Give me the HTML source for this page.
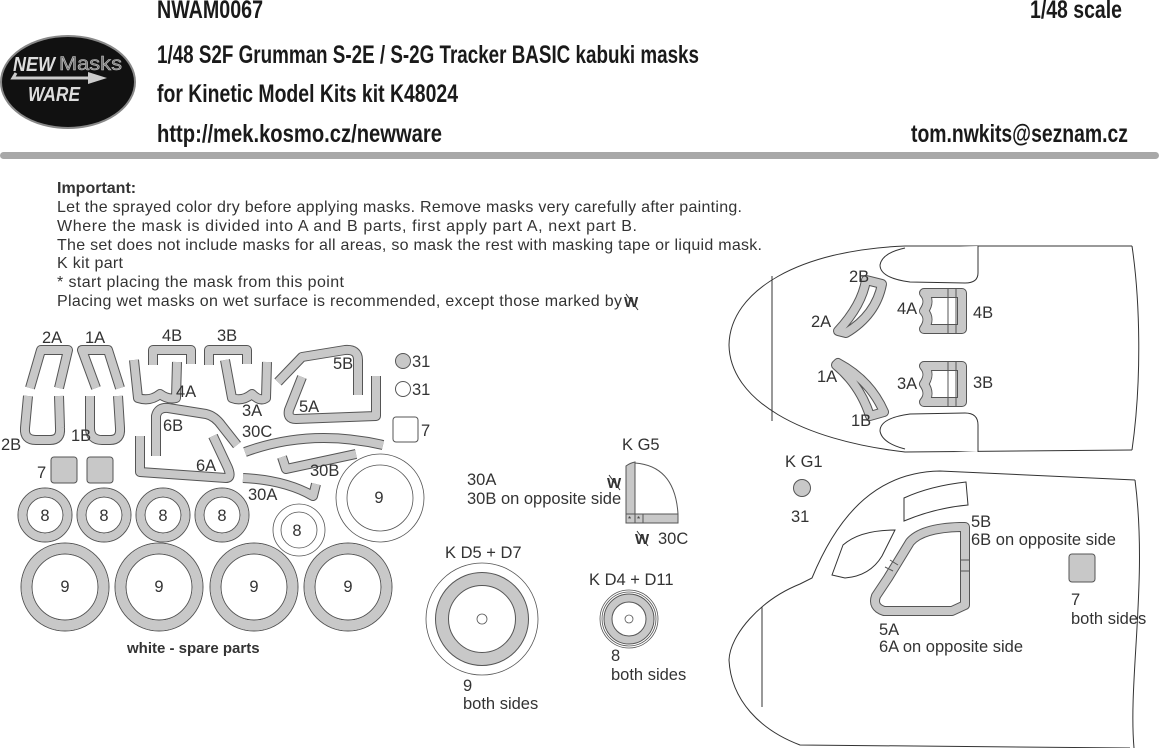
<!DOCTYPE html>
<html><head><meta charset="utf-8"><style>
html,body{margin:0;padding:0;background:#fff;}
svg{display:block}
.h{font-family:"Liberation Sans Narrow","Liberation Sans",sans-serif;font-weight:bold;fill:#1a1a1a}
.t{font-family:"Liberation Sans",sans-serif;font-size:16px;fill:#333}
.l{font-family:"Liberation Sans",sans-serif;font-size:16.5px;fill:#333}
.o{fill:none;stroke:#555;stroke-linejoin:round}
.g{fill:none;stroke:#c8c8c8;stroke-linejoin:round}
</style></head><body>
<svg width="1159" height="748" viewBox="0 0 1159 748" xmlns="http://www.w3.org/2000/svg">
<!-- header -->
<text class="h" x="157" y="18" font-size="25" textLength="106" lengthAdjust="spacingAndGlyphs">NWAM0067</text>
<text class="h" x="1030" y="18" font-size="25" textLength="92" lengthAdjust="spacingAndGlyphs">1/48 scale</text>
<text class="h" x="157" y="63" font-size="25" textLength="542" lengthAdjust="spacingAndGlyphs">1/48 S2F Grumman S-2E / S-2G Tracker BASIC kabuki masks</text>
<text class="h" x="157" y="102" font-size="25" textLength="301" lengthAdjust="spacingAndGlyphs">for Kinetic Model Kits kit K48024</text>
<text class="h" x="157" y="142" font-size="25" textLength="285" lengthAdjust="spacingAndGlyphs">http://mek.kosmo.cz/newware</text>
<text class="h" x="911" y="142" font-size="25" textLength="217" lengthAdjust="spacingAndGlyphs">tom.nwkits@seznam.cz</text>
<rect x="0" y="152" width="1159" height="7" rx="3.5" fill="#a8a8a8"/>
<!-- logo -->
<ellipse cx="68" cy="82" rx="67" ry="46" fill="#111" stroke="#888" stroke-width="2"/>
<text x="13" y="71" font-family="Liberation Sans,sans-serif" font-weight="bold" font-style="italic" font-size="20" fill="#ddd" textLength="42" lengthAdjust="spacingAndGlyphs">NEW</text>
<text x="59" y="70" font-family="Liberation Sans,sans-serif" font-size="19" fill="#777" stroke="#ccc" stroke-width="0.5" textLength="63" lengthAdjust="spacingAndGlyphs">Masks</text>
<path d="M16,73 L13,78 L90,78" stroke="#ccc" stroke-width="3" fill="none"/>
<path d="M88,72 L107,78 L88,84 Z" fill="#ccc"/>
<text x="28" y="101" font-family="Liberation Sans,sans-serif" font-weight="bold" font-style="italic" font-size="20" fill="#ddd" textLength="52" lengthAdjust="spacingAndGlyphs">WARE</text>
<!-- important -->
<text x="57" y="193" font-family="Liberation Sans,sans-serif" font-weight="bold" font-size="16" fill="#333">Important:</text>
<text class="t" x="57" y="212" textLength="685">Let the sprayed color dry before applying masks. Remove masks very carefully after painting.</text>
<text class="t" x="57" y="231" textLength="580">Where the mask is divided into A and B parts, first apply part A, next part B.</text>
<text class="t" x="57" y="250" textLength="705">The set does not include masks for all areas, so mask the rest with masking tape or liquid mask.</text>
<text class="t" x="57" y="268" textLength="66">K kit part</text>
<text class="t" x="57" y="287" textLength="287">*  start placing the mask from this point</text>
<text class="t" x="57" y="306" textLength="565">Placing wet masks on wet surface is recommended, except those marked by</text>
<text x="624" y="307" font-family="Liberation Sans,sans-serif" font-weight="bold" font-size="15" fill="#333">W</text>
<line x1="626" y1="294" x2="638" y2="310" stroke="#333"/>
<!-- left parts -->
<g>
<g class="o" stroke-width="10">
<path d="M30,388 L41,350 L68,350 L59,388"/>
<path d="M28,396 L25,428 Q24,440 36,440 L50,440 Q61,440 60,428 L59,396"/>
<path d="M96,388 L82,350 L108,350 L120,388"/>
<path d="M90,396 L90,428 Q90,440 102,440 L110,440 Q121,440 120,428 L118,396"/>
<path d="M153,365 L153,350 L191,350 L191,364"/>
<path d="M134,360 L138,398 Q150,402 160,394 Q168,400 176,398 L177,362"/>
<path d="M209,365 L209,350 L247,350 L247,364"/>
<path d="M225,360 L232,398 Q242,402 252,394 Q260,402 266,398 L267,362"/>
<path d="M278,382 L302,357 L345,350 Q358,349 358,360 L358,395"/>
<path d="M302,377 L289,410 Q287,419 296,419 L376,416 L376,376"/>
<path d="M156,456 L156,416 Q158,407 168,408 L206,414 Q215,416 222,426 L237,445"/>
<path d="M140,436 L140,472 L226,478 Q232,478 228,468 L213,436"/>
<path d="M245,452 Q310,428 383,445"/>
<path d="M282,457 L286,469 L356,454"/>
<path d="M243,478 Q285,480 313,496 L316,484"/>
</g>
<g class="g" stroke-width="8">
<path d="M30,388 L41,350 L68,350 L59,388"/>
<path d="M28,396 L25,428 Q24,440 36,440 L50,440 Q61,440 60,428 L59,396"/>
<path d="M96,388 L82,350 L108,350 L120,388"/>
<path d="M90,396 L90,428 Q90,440 102,440 L110,440 Q121,440 120,428 L118,396"/>
<path d="M153,365 L153,350 L191,350 L191,364"/>
<path d="M134,360 L138,398 Q150,402 160,394 Q168,400 176,398 L177,362"/>
<path d="M209,365 L209,350 L247,350 L247,364"/>
<path d="M225,360 L232,398 Q242,402 252,394 Q260,402 266,398 L267,362"/>
<path d="M278,382 L302,357 L345,350 Q358,349 358,360 L358,395"/>
<path d="M302,377 L289,410 Q287,419 296,419 L376,416 L376,376"/>
<path d="M156,456 L156,416 Q158,407 168,408 L206,414 Q215,416 222,426 L237,445"/>
<path d="M140,436 L140,472 L226,478 Q232,478 228,468 L213,436"/>
<path d="M245,452 Q310,428 383,445"/>
<path d="M282,457 L286,469 L356,454"/>
<path d="M243,478 Q285,480 313,496 L316,484"/>
</g>
<text class="l" x="42" y="343">2A</text><text class="l" x="85" y="343">1A</text>
<text class="l" x="162" y="341">4B</text><text class="l" x="217" y="341">3B</text>
<text class="l" x="176" y="397">4A</text><text class="l" x="242" y="416">3A</text>
<text class="l" x="333" y="369">5B</text><text class="l" x="299" y="412">5A</text>
<text class="l" x="163" y="431">6B</text><text class="l" x="196" y="471">6A</text>
<text class="l" x="242" y="437">30C</text><text class="l" x="310" y="476">30B</text>
<text class="l" x="248" y="500">30A</text>
<text class="l" x="1" y="450">2B</text><text class="l" x="71" y="441">1B</text>
<circle cx="403" cy="361" r="7.5" fill="#c8c8c8" stroke="#555"/>
<circle cx="403" cy="389" r="7.5" fill="#fff" stroke="#555"/>
<text class="l" x="412" y="367">31</text><text class="l" x="412" y="395">31</text>
<rect x="393" y="417" width="25" height="25" rx="3" fill="#fff" stroke="#555"/>
<text class="l" x="421" y="436">7</text>
<rect x="51" y="457" width="26" height="26" rx="3" fill="#c8c8c8" stroke="#555"/>
<rect x="87" y="457" width="26" height="26" rx="3" fill="#c8c8c8" stroke="#555"/>
<text class="l" x="37" y="478">7</text>
</g>
<!-- rings -->
<g>
<g fill="none" stroke="#555" stroke-width="1">
<circle cx="45" cy="515" r="27"/><circle cx="45" cy="515" r="18"/>
<circle cx="104" cy="515" r="27"/><circle cx="104" cy="515" r="18"/>
<circle cx="163" cy="515" r="27"/><circle cx="163" cy="515" r="18"/>
<circle cx="222" cy="515" r="27"/><circle cx="222" cy="515" r="18"/>
<circle cx="65" cy="587" r="44"/><circle cx="65" cy="587" r="33"/>
<circle cx="159" cy="587" r="44"/><circle cx="159" cy="587" r="33"/>
<circle cx="254" cy="587" r="44"/><circle cx="254" cy="587" r="33"/>
<circle cx="348" cy="587" r="44"/><circle cx="348" cy="587" r="33"/>
</g>
<g fill="none" stroke="#c8c8c8">
<circle cx="45" cy="515" r="22.5" stroke-width="8"/>
<circle cx="104" cy="515" r="22.5" stroke-width="8"/>
<circle cx="163" cy="515" r="22.5" stroke-width="8"/>
<circle cx="222" cy="515" r="22.5" stroke-width="8"/>
<circle cx="65" cy="587" r="38.5" stroke-width="10"/>
<circle cx="159" cy="587" r="38.5" stroke-width="10"/>
<circle cx="254" cy="587" r="38.5" stroke-width="10"/>
<circle cx="348" cy="587" r="38.5" stroke-width="10"/>
</g>
<g fill="none" stroke="#555" stroke-width="0.8">
<circle cx="299" cy="530" r="26"/><circle cx="299" cy="530" r="18"/>
<circle cx="380" cy="498" r="44"/><circle cx="380" cy="498" r="33"/>
</g>
<g class="l" text-anchor="middle">
<text x="45" y="521">8</text><text x="104" y="521">8</text><text x="163" y="521">8</text><text x="222" y="521">8</text>
<text x="65" y="592">9</text><text x="159" y="592">9</text><text x="254" y="592">9</text><text x="348" y="592">9</text>
<text x="297" y="536">8</text><text x="379" y="503">9</text>
</g>
<text x="127" y="653" font-family="Liberation Sans,sans-serif" font-weight="bold" font-size="15" fill="#333">white - spare parts</text>
</g>
<!-- middle -->
<text class="l" x="622" y="450">K G5</text>
<path d="M635,463 Q675,466 678,514 L635,514 Z" fill="#fff" stroke="#555"/>
<path d="M626,466 Q630,463 635,462 L635,523 L626,523 Z" fill="#c8c8c8" stroke="#555"/>
<rect x="635" y="514" width="43" height="9" fill="#c8c8c8" stroke="#555"/>
<line x1="626" y1="514" x2="635" y2="514" stroke="#555"/><line x1="643" y1="514" x2="643" y2="523" stroke="#555"/>
<text x="628" y="522" font-size="8" font-family="Liberation Sans,sans-serif" fill="#333">*</text>
<text x="637" y="522" font-size="8" font-family="Liberation Sans,sans-serif" fill="#333">*</text>
<text class="l" x="467" y="485">30A</text>
<text class="l" x="467" y="504">30B on opposite side</text>
<text x="607" y="488" font-family="Liberation Sans,sans-serif" font-weight="bold" font-size="15" fill="#333">W</text>
<line x1="609" y1="475" x2="620" y2="490" stroke="#333"/>
<text x="635" y="544" font-family="Liberation Sans,sans-serif" font-weight="bold" font-size="15" fill="#333">W</text>
<line x1="637" y1="531" x2="648" y2="546" stroke="#333"/>
<text class="l" x="658" y="544">30C</text>
<text class="l" x="445" y="558">K D5 + D7</text>
<circle cx="482" cy="619" r="56" fill="none" stroke="#555" stroke-width="0.8"/>
<circle cx="482" cy="619" r="40" fill="none" stroke="#555" stroke-width="14"/>
<circle cx="482" cy="619" r="40" fill="none" stroke="#c8c8c8" stroke-width="12"/>
<circle cx="482" cy="619" r="5" fill="none" stroke="#555" stroke-width="0.8"/>
<text class="l" x="463" y="691">9</text><text class="l" x="463" y="709">both sides</text>
<text class="l" x="589" y="585">K D4 + D11</text>
<circle cx="629" cy="619" r="29" fill="none" stroke="#555" stroke-width="0.8"/>
<circle cx="629" cy="619" r="27" fill="none" stroke="#555" stroke-width="0.8"/>
<circle cx="629" cy="619" r="21" fill="none" stroke="#555" stroke-width="9"/>
<circle cx="629" cy="619" r="21" fill="none" stroke="#c8c8c8" stroke-width="7"/>
<circle cx="629" cy="619" r="4" fill="none" stroke="#555" stroke-width="0.8"/>
<text class="l" x="611" y="661">8</text><text class="l" x="611" y="680">both sides</text>
<!-- top right fuselage -->
<g fill="none" stroke="#333" stroke-width="1">
<path d="M1132,246 L905,246 C800,250 730,290 729,345 C730,400 800,440 905,452 L1132,450"/>
<path d="M1132,246 C1140,300 1142,380 1132,450"/>
<line x1="772" y1="276" x2="772" y2="421"/>
<path d="M978,246 L978,273 Q978,283 965,283 L910,282 Q880,278 880,265 Q882,253 905,248" fill="#fff"/>
<path d="M978,452 L978,425 Q978,413 965,413 L910,414 Q880,418 880,431 Q882,443 905,449" fill="#fff"/>
</g>
<g class="o" stroke-width="10">
<path d="M838,331 Q862,305 866,280 L882,284 Q876,315 846,333 Z"/>
<path d="M924,293 L962,293 L962,329 L924,329 Q931,319 924,311 Q931,301 924,293 Z"/>
<path d="M924,366 L962,366 L962,402 L924,402 Q931,394 924,384 Q931,374 924,366 Z"/>
<path d="M838,363 Q870,380 884,412 L870,416 Q860,385 836,365 Z"/>
<path d="M888,578 L910,542 Q922,528 960,527 L965,527 L965,605 L952,611 L884,611 Q872,607 876,596 Z"/>
</g>
<g class="g" stroke-width="8">
<path d="M838,331 Q862,305 866,280 L882,284 Q876,315 846,333 Z"/>
<path d="M924,293 L962,293 L962,329 L924,329 Q931,319 924,311 Q931,301 924,293 Z"/>
<path d="M924,366 L962,366 L962,402 L924,402 Q931,394 924,384 Q931,374 924,366 Z"/>
<path d="M838,363 Q870,380 884,412 L870,416 Q860,385 836,365 Z"/>
<path d="M888,578 L910,542 Q922,528 960,527 L965,527 L965,605 L952,611 L884,611 Q872,607 876,596 Z"/>
</g>
<g stroke="#555" stroke-width="1">
<line x1="948" y1="289" x2="948" y2="333"/><line x1="956" y1="289" x2="956" y2="333"/>
<line x1="948" y1="362" x2="948" y2="406"/><line x1="956" y1="362" x2="956" y2="406"/>
<line x1="960" y1="560" x2="970" y2="560"/><line x1="960" y1="571" x2="970" y2="571"/>
<line x1="890" y1="560" x2="898" y2="565"/><line x1="885" y1="567" x2="893" y2="571"/>
</g>
<text class="l" x="849" y="282">2B</text><text class="l" x="811" y="327">2A</text>
<text class="l" x="897" y="314">4A</text><text class="l" x="973" y="318">4B</text>
<text class="l" x="817" y="382">1A</text><text class="l" x="897" y="389">3A</text>
<text class="l" x="973" y="388">3B</text><text class="l" x="851" y="426">1B</text>
<!-- bottom right fuselage -->
<g fill="none" stroke="#333" stroke-width="1">
<path d="M1135,480 L940,471 C880,472 840,510 812,578 L800,584 C760,600 730,635 729,660 C731,700 760,730 800,745 L1130,748"/>
<path d="M1135,480 C1148,580 1128,680 1134,748"/>
<line x1="762" y1="607" x2="762" y2="707"/>
<path d="M904,521 L904,498 Q930,486 966,482 L968,505 Q935,508 904,521 Z"/>
<path d="M832,575 L843,545 Q860,530 895,530 L882,556 Q870,576 845,578 Z"/>
</g>
<text class="l" x="785" y="467">K G1</text>
<circle cx="802" cy="488" r="8.5" fill="#c8c8c8" stroke="#555"/>
<text class="l" x="791" y="522">31</text>
<text class="l" x="971" y="527">5B</text>
<text class="l" x="971" y="545">6B on opposite side</text>
<text class="l" x="879" y="635">5A</text>
<text class="l" x="879" y="652">6A on opposite side</text>
<rect x="1069" y="554" width="26" height="28" rx="3" fill="#c8c8c8" stroke="#555"/>
<text class="l" x="1071" y="605">7</text>
<text class="l" x="1071" y="624">both sides</text>
</svg>
</body></html>
